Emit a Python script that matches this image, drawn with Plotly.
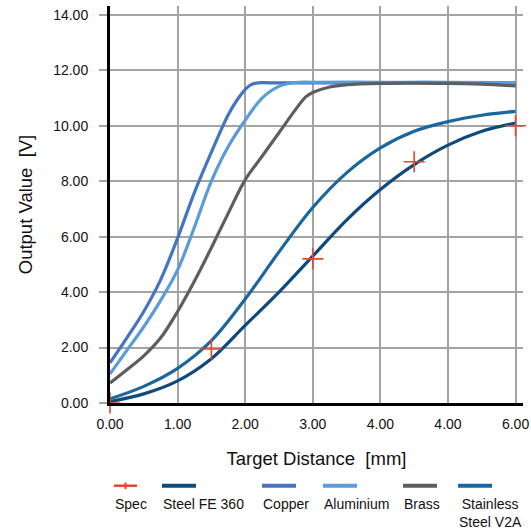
import plotly.graph_objects as go

# ---------------- data ----------------
x_tick_vals = [0, 1, 2, 3, 4, 5, 6]
x_tick_text = ["0.00", "1.00", "2.00", "3.00", "4.00", "4.00", "6.00"]
y_tick_vals = [0, 2, 4, 6, 8, 10, 12, 14]
y_tick_text = ["0.00", "2.00", "4.00", "6.00", "8.00", "10.00", "12.00", "14.00"]

spec_x = [0.0, 1.5, 3.0, 4.5, 6.0]
spec_y = [0.0, 1.95, 5.2, 8.7, 10.0]

fe360_x = [0.0, 0.5, 1.0, 1.5, 2.0, 2.5, 3.0, 3.5, 4.0, 4.5, 5.0, 5.5, 6.0]
fe360_y = [0.05, 0.33, 0.8, 1.6, 2.8, 4.0, 5.3, 6.6, 7.7, 8.6, 9.3, 9.8, 10.1]

copper_x = [0.0, 0.25, 0.5, 0.75, 1.0, 1.25, 1.5, 1.75, 1.9, 2.02, 2.1, 2.2, 2.35, 3.0, 4.0, 5.0, 6.0]
copper_y = [1.45, 2.35, 3.3, 4.45, 5.95, 7.6, 9.05, 10.4, 11.0, 11.36, 11.5, 11.55, 11.55, 11.55, 11.55, 11.55, 11.52]

alu_x = [0.0, 0.25, 0.5, 0.75, 1.0, 1.25, 1.5, 1.75, 2.0, 2.25, 2.5, 2.75, 3.0, 4.0, 5.0, 6.0]
alu_y = [1.05, 1.9, 2.75, 3.7, 4.8, 6.35, 8.0, 9.25, 10.2, 11.0, 11.42, 11.56, 11.57, 11.57, 11.57, 11.56]

brass_x = [0.0, 0.25, 0.5, 0.75, 1.0, 1.25, 1.5, 1.75, 2.0, 2.25, 2.5, 2.75, 2.9, 3.0, 3.25, 3.5, 4.0, 5.0, 5.5, 6.0]
brass_y = [0.72, 1.2, 1.7, 2.35, 3.3, 4.4, 5.6, 6.85, 8.05, 8.9, 9.75, 10.6, 11.05, 11.2, 11.4, 11.48, 11.53, 11.53, 11.5, 11.44]

v2a_x = [0.0, 0.5, 1.0, 1.5, 2.0, 2.5, 3.0, 3.5, 4.0, 4.5, 5.0, 5.5, 6.0]
v2a_y = [0.15, 0.6, 1.25, 2.25, 3.75, 5.45, 7.05, 8.3, 9.2, 9.8, 10.15, 10.38, 10.52]

series_names = ["Spec", "Steel FE 360", "Copper", "Aluminium", "Brass", "Stainless<br>Steel V2A"]
series_colors = ["#e8452c", "#0f4a7c", "#4674bf", "#5b9bd8", "#5c5e60", "#1b679d"]

# ---------------- figure ----------------
fig = go.Figure()

line_series = [
    (fe360_x, fe360_y, 1),
    (copper_x, copper_y, 2),
    (alu_x, alu_y, 3),
    (brass_x, brass_y, 4),
    (v2a_x, v2a_y, 5),
]
for xs, ys, idx in line_series:
    fig.add_trace(go.Scatter(
        x=xs, y=ys, mode="lines", name=series_names[idx],
        line=dict(color=series_colors[idx], width=3.2, shape="spline", smoothing=1.0),
        showlegend=False,
    ))

fig.add_trace(go.Scatter(
    x=spec_x, y=spec_y, mode="markers", name=series_names[0],
    marker=dict(symbol="cross-thin", size=15, line=dict(color=series_colors[0], width=1.6)),
    cliponaxis=False, showlegend=False,
))

FONT = "Liberation Sans, Arial, Helvetica, sans-serif"

fig.update_layout(
    width=531, height=529,
    margin=dict(l=110, r=8, t=6, b=126),
    paper_bgcolor="white", plot_bgcolor="white",
    font=dict(family=FONT, size=14, color="#111111"),
    xaxis=dict(
        range=[0, 6.11], tickvals=x_tick_vals, ticktext=x_tick_text,
        showgrid=True, gridcolor="#a3a3a3", gridwidth=1.5,
        showline=True, linecolor="black", linewidth=3,
        ticks="", zeroline=False, tickfont=dict(size=14), automargin=False,
        ticklabelstandoff=6,
        title=dict(text="Target Distance\u00a0 [mm]", font=dict(size=18.5), standoff=22),
    ),
    yaxis=dict(
        range=[0, 14.32], tickvals=y_tick_vals, ticktext=y_tick_text,
        showgrid=True, gridcolor="#a3a3a3", gridwidth=1.5,
        showline=True, linecolor="black", linewidth=3,
        ticks="outside", ticklen=8, tickwidth=1.5, tickcolor="#a3a3a3",
        zeroline=False, tickfont=dict(size=14), automargin=False,
        ticklabelstandoff=8,
        title=dict(text="Output Value\u00a0 [V]", font=dict(size=18.5), standoff=16),
    ),
)

# ---------------- custom legend (symbol above label) ----------------
PLOT_L, PLOT_W, PLOT_T, PLOT_H = 110, 413, 6, 397


def px2paper_x(px):
    return (px - PLOT_L) / PLOT_W


def px2paper_y(py):
    return 1 - (py - PLOT_T) / PLOT_H


legend_left = [114, 162, 262, 323, 403, 458]
legend_len = [23, 34, 34, 34, 34, 34]
sym_y = px2paper_y(485.7)
for i, name in enumerate(series_names):
    x0 = legend_left[i]
    x1 = x0 + legend_len[i]
    fig.add_shape(type="line", xref="paper", yref="paper",
                  x0=px2paper_x(x0), x1=px2paper_x(x1), y0=sym_y, y1=sym_y,
                  line=dict(color=series_colors[i], width=2.5 if i == 0 else 4))
    if i == 0:
        xm = px2paper_x((x0 + x1) / 2)
        fig.add_shape(type="line", xref="paper", yref="paper",
                      x0=xm, x1=xm, y0=px2paper_y(482.5), y1=px2paper_y(489),
                      line=dict(color=series_colors[i], width=2))
    fig.add_annotation(
        xref="paper", yref="paper", x=px2paper_x(x0 - 1), y=px2paper_y(494),
        xanchor="left", yanchor="top", align="center", showarrow=False,
        text=name, font=dict(size=14, color="#111111"),
    )

fig.write_html(
    "out.html",
    config={"displayModeBar": False},
    post_script="document.body.style.margin='0';document.body.style.overflow='hidden';",
)
